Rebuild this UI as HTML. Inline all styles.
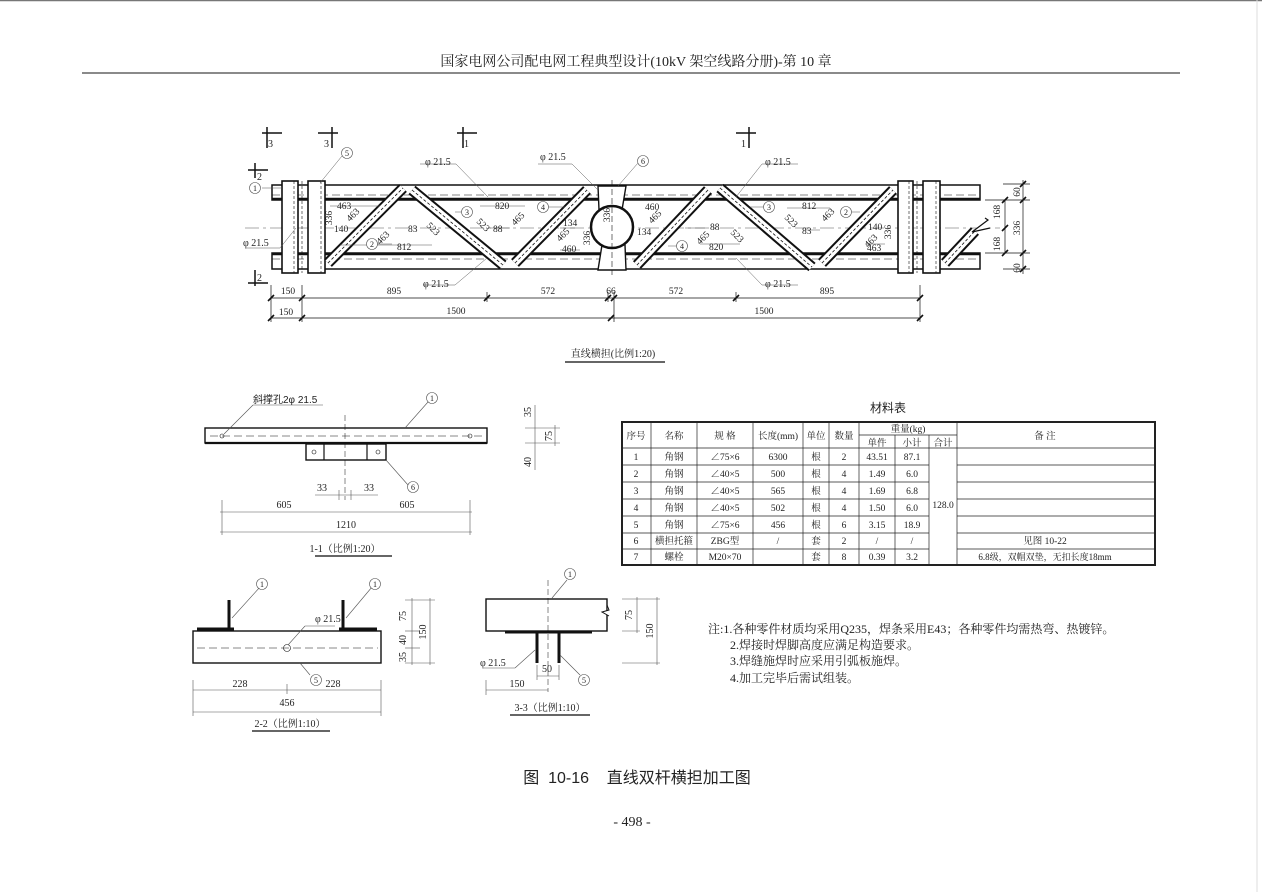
<!DOCTYPE html>
<html><head><meta charset="utf-8"><style>
html,body{margin:0;padding:0;background:#fff}
svg{display:block}
text{font-family:"Liberation Serif","Noto Serif CJK SC",serif;fill:#222}
.s{font-family:"Liberation Sans","Noto Sans CJK SC",sans-serif}
</style></head><body>
<svg width="1262" height="892" viewBox="0 0 1262 892" xmlns="http://www.w3.org/2000/svg">
<line x1="0" y1="0.5" x2="1262" y2="0.5" stroke="#777" stroke-width="1.5"/>
<line x1="1257" y1="0" x2="1257" y2="892" stroke="#ddd" stroke-width="1"/>
<text x="636" y="66" font-size="14" text-anchor="middle">国家电网公司配电网工程典型设计(10kV 架空线路分册)-第 10 章</text>
<line x1="82" y1="73" x2="1180" y2="73" stroke="#444" stroke-width="1.2"/>

<g stroke="#111" fill="none">
 <rect x="272" y="185" width="708" height="15" stroke-width="1.5"/>
 <line x1="272" y1="199" x2="980" y2="199" stroke-width="2.5"/>
 <rect x="272" y="253" width="708" height="16" stroke-width="1.5"/>
 <line x1="272" y1="254" x2="980" y2="254" stroke-width="2.5"/>
 <line x1="272" y1="195" x2="980" y2="195" stroke-width="0.6" stroke-dasharray="8,4"/>
 <line x1="272" y1="259" x2="980" y2="259" stroke-width="0.6" stroke-dasharray="8,4"/>
 <line x1="245" y1="228" x2="1000" y2="228" stroke-width="0.6" stroke-dasharray="14,4,3,4" stroke="#555"/>
 <g fill="#fff" stroke-width="1.6">
  <rect x="282" y="181" width="16" height="92"/>
  <rect x="308" y="181" width="17" height="92"/>
  <rect x="898" y="181" width="15" height="92"/>
  <rect x="923" y="181" width="17" height="92"/>
 </g>
 <g stroke-width="0.6" stroke-dasharray="3,2">
  <line x1="294" y1="181" x2="294" y2="273"/><line x1="321" y1="181" x2="321" y2="273"/>
  <line x1="909" y1="181" x2="909" y2="273"/><line x1="936" y1="181" x2="936" y2="273"/>
  <line x1="302" y1="181" x2="302" y2="273"/><line x1="917" y1="181" x2="917" y2="273"/>
 </g>
 <g stroke-linecap="butt">
  <g stroke-width="11"><line x1="328" y1="263" x2="403" y2="188"/><line x1="412" y1="190" x2="503" y2="265"/><line x1="515" y1="263" x2="587" y2="190"/>
   <line x1="637" y1="265" x2="708" y2="190"/><line x1="720" y1="188" x2="812" y2="267"/><line x1="822" y1="263" x2="893" y2="190"/><line x1="945" y1="263" x2="975" y2="231"/></g>
  <g stroke-width="7" stroke="#fff"><line x1="328" y1="263" x2="403" y2="188"/><line x1="412" y1="190" x2="503" y2="265"/><line x1="515" y1="263" x2="587" y2="190"/>
   <line x1="637" y1="265" x2="708" y2="190"/><line x1="720" y1="188" x2="812" y2="267"/><line x1="822" y1="263" x2="893" y2="190"/><line x1="945" y1="263" x2="975" y2="231"/></g>
  <g stroke-width="0.8" stroke-dasharray="3,2"><line x1="328" y1="263" x2="403" y2="188"/><line x1="412" y1="190" x2="503" y2="265"/><line x1="515" y1="263" x2="587" y2="190"/>
   <line x1="637" y1="265" x2="708" y2="190"/><line x1="720" y1="188" x2="812" y2="267"/><line x1="822" y1="263" x2="893" y2="190"/><line x1="945" y1="263" x2="975" y2="231"/></g>
 </g>
 <polyline points="985,218 988,220 972,232 990,228" stroke-width="1.2" fill="#fff"/>
 <path d="M598,186 L626,186 L622,210 L625,245 L626,270 L598,270 L602,245 L599,210 Z" stroke-width="1.4" fill="#fff"/>
 <circle cx="612" cy="227" r="21" stroke-width="2.5" fill="#fff"/>
 <line x1="612" y1="180" x2="612" y2="275" stroke-width="0.6" stroke-dasharray="6,3"/>
 <g stroke-width="0.7">
  <line x1="271" y1="298" x2="920" y2="298"/><line x1="271" y1="318" x2="920" y2="318"/>
  <line x1="271" y1="285" x2="271" y2="322"/><line x1="302" y1="285" x2="302" y2="322"/>
  <line x1="487" y1="292" x2="487" y2="302"/><line x1="608" y1="292" x2="608" y2="302"/><line x1="614" y1="292" x2="614" y2="322"/>
  <line x1="736" y1="292" x2="736" y2="302"/><line x1="920" y1="285" x2="920" y2="322"/>
  <line x1="1003" y1="184" x2="1030" y2="184"/><line x1="985" y1="200" x2="1030" y2="200"/>
  <line x1="985" y1="253" x2="1030" y2="253"/><line x1="1003" y1="269" x2="1030" y2="269"/>
  <line x1="1005" y1="200" x2="1005" y2="253"/><line x1="1023" y1="180" x2="1023" y2="274"/>
 </g>
 <g stroke-width="1.6">
  <line x1="268" y1="301" x2="274" y2="295"/><line x1="299" y1="301" x2="305" y2="295"/><line x1="484" y1="301" x2="490" y2="295"/>
  <line x1="605" y1="301" x2="611" y2="295"/><line x1="611" y1="301" x2="617" y2="295"/><line x1="733" y1="301" x2="739" y2="295"/><line x1="917" y1="301" x2="923" y2="295"/>
  <line x1="268" y1="321" x2="274" y2="315"/><line x1="299" y1="321" x2="305" y2="315"/><line x1="608" y1="321" x2="614" y2="315"/><line x1="917" y1="321" x2="923" y2="315"/>
  <line x1="1002" y1="203" x2="1008" y2="197"/><line x1="1002" y1="231" x2="1008" y2="225"/><line x1="1002" y1="256" x2="1008" y2="250"/>
  <line x1="1020" y1="187" x2="1026" y2="181"/><line x1="1020" y1="203" x2="1026" y2="197"/><line x1="1020" y1="256" x2="1026" y2="250"/><line x1="1020" y1="272" x2="1026" y2="266"/>
 </g>
 <g stroke-width="1.5">
  <line x1="262" y1="133" x2="282" y2="133"/><line x1="267" y1="127" x2="267" y2="148"/>
  <line x1="318" y1="133" x2="338" y2="133"/><line x1="332" y1="127" x2="332" y2="148"/>
  <line x1="457" y1="133" x2="477" y2="133"/><line x1="463" y1="127" x2="463" y2="148"/>
  <line x1="736" y1="133" x2="756" y2="133"/><line x1="749" y1="127" x2="749" y2="148"/>
  <line x1="248" y1="170" x2="268" y2="170"/><line x1="255" y1="163" x2="255" y2="178"/>
  <line x1="248" y1="283" x2="268" y2="283"/><line x1="255" y1="270" x2="255" y2="286"/>
 </g>
 <g stroke-width="0.5" stroke="#555">
  <line x1="262" y1="188" x2="282" y2="188"/>
  <line x1="342" y1="156" x2="320" y2="183"/>
  <line x1="245" y1="248" x2="280" y2="248"/><line x1="280" y1="248" x2="296" y2="228"/>
  <line x1="420" y1="164" x2="456" y2="164"/><line x1="456" y1="164" x2="488" y2="197"/>
  <line x1="423" y1="285" x2="455" y2="285"/><line x1="455" y1="285" x2="487" y2="258"/>
  <line x1="538" y1="164" x2="572" y2="164"/><line x1="572" y1="164" x2="598" y2="190"/>
  <line x1="638" y1="163" x2="618" y2="186"/>
  <line x1="762" y1="164" x2="798" y2="164"/><line x1="762" y1="164" x2="736" y2="197"/>
  <line x1="762" y1="285" x2="798" y2="285"/><line x1="762" y1="285" x2="736" y2="258"/>
  <line x1="377" y1="244" x2="392" y2="244"/><line x1="470" y1="212" x2="455" y2="212"/>
  <line x1="548" y1="207" x2="565" y2="207"/><line x1="688" y1="246" x2="668" y2="246"/>
  <line x1="765" y1="207" x2="750" y2="207"/><line x1="843" y1="212" x2="860" y2="212"/>
  <line x1="330" y1="206" x2="380" y2="206"/><line x1="340" y1="245" x2="432" y2="245"/>
  <line x1="480" y1="206" x2="525" y2="206"/><line x1="490" y1="228" x2="510" y2="228"/>
  <line x1="560" y1="228" x2="575" y2="228"/><line x1="560" y1="250" x2="580" y2="250"/>
  <line x1="685" y1="228" x2="705" y2="228"/><line x1="700" y1="244" x2="740" y2="244"/>
  <line x1="787" y1="208" x2="830" y2="208"/><line x1="805" y1="230" x2="820" y2="230"/>
  <line x1="865" y1="244" x2="885" y2="244"/>
 </g>
</g>
<g font-size="10">
 <text x="268" y="147">3</text><text x="324" y="147">3</text><text x="464" y="147">1</text><text x="741" y="147">1</text>
 <text x="257" y="180">2</text><text x="257" y="281">2</text>
 <text x="425" y="165">φ 21.5</text><text x="540" y="160">φ 21.5</text>
 <text x="765" y="165">φ 21.5</text><text x="243" y="246">φ 21.5</text>
 <text x="423" y="287">φ 21.5</text><text x="765" y="287">φ 21.5</text>
 <g font-size="9.5">
 <text x="337" y="209">463</text><text x="334" y="232">140</text><text x="397" y="250">812</text><text x="408" y="232">83</text>
 <text x="495" y="209">820</text><text x="493" y="232">88</text><text x="563" y="226">134</text><text x="562" y="252">460</text>
 <text x="645" y="210">460</text><text x="637" y="235">134</text><text x="710" y="230">88</text><text x="709" y="250">820</text>
 <text x="802" y="209">812</text><text x="802" y="234">83</text><text x="868" y="230">140</text><text x="867" y="251">463</text>
 <text x="288" y="294" text-anchor="middle">150</text><text x="394" y="294" text-anchor="middle">895</text><text x="548" y="294" text-anchor="middle">572</text>
 <text x="611" y="294" text-anchor="middle">66</text><text x="676" y="294" text-anchor="middle">572</text><text x="827" y="294" text-anchor="middle">895</text>
 <text x="286" y="315" text-anchor="middle">150</text><text x="456" y="314" text-anchor="middle">1500</text><text x="764" y="314" text-anchor="middle">1500</text>
 <text transform="translate(1020,192) rotate(-90)" text-anchor="middle">60</text>
 <text transform="translate(1000,212) rotate(-90)" text-anchor="middle">168</text>
 <text transform="translate(1020,228) rotate(-90)" text-anchor="middle">336</text>
 <text transform="translate(1000,244) rotate(-90)" text-anchor="middle">168</text>
 <text transform="translate(1020,268) rotate(-90)" text-anchor="middle">60</text>
 <text transform="translate(332,218) rotate(-90)" text-anchor="middle">336</text>
 <text transform="translate(610,215) rotate(-90)" text-anchor="middle">336</text>
 <text transform="translate(590,238) rotate(-90)" text-anchor="middle">336</text>
 <text transform="translate(891,232) rotate(-90)" text-anchor="middle">336</text>
 <text transform="translate(350,222) rotate(-45)">463</text><text transform="translate(380,245) rotate(-45)">463</text>
 <text transform="translate(426,226) rotate(45)">523</text><text transform="translate(476,222) rotate(45)">523</text>
 <text transform="translate(515,226) rotate(-45)">465</text><text transform="translate(560,242) rotate(-45)">465</text>
 <text transform="translate(652,224) rotate(-45)">465</text><text transform="translate(700,245) rotate(-45)">465</text>
 <text transform="translate(784,218) rotate(45)">523</text><text transform="translate(730,233) rotate(45)">523</text>
 <text transform="translate(825,222) rotate(-45)">463</text><text transform="translate(868,248) rotate(-45)">463</text>
 </g>
</g>
<g fill="#fff" stroke="#555" stroke-width="0.6">
 <circle cx="255" cy="188" r="5.5"/><circle cx="347" cy="153" r="5.5"/><circle cx="372" cy="244" r="5.5"/>
 <circle cx="467" cy="212" r="5.5"/><circle cx="543" cy="207" r="5.5"/><circle cx="643" cy="161" r="5.5"/>
 <circle cx="682" cy="246" r="5.5"/><circle cx="769" cy="207" r="5.5"/><circle cx="846" cy="212" r="5.5"/>
</g>
<g font-size="8" text-anchor="middle">
 <text x="255" y="191">1</text><text x="347" y="156">5</text><text x="372" y="247">2</text><text x="467" y="215">3</text><text x="543" y="210">4</text>
 <text x="643" y="164">6</text><text x="682" y="249">4</text><text x="769" y="210">3</text><text x="846" y="215">2</text>
</g>
<text x="613" y="357" font-size="10" text-anchor="middle">直线横担(比例1:20)</text>
<line x1="565" y1="362" x2="665" y2="362" stroke="#333" stroke-width="1.4"/>

<g stroke="#111" fill="none">
 <rect x="205" y="428" width="282" height="15" stroke-width="1.4"/>
 <line x1="205" y1="443" x2="487" y2="443" stroke-width="2.2"/>
 <line x1="210" y1="436" x2="482" y2="436" stroke-width="0.5" stroke-dasharray="8,4"/>
 <rect x="306" y="444" width="80" height="16" stroke-width="1.4" fill="#fff"/>
 <line x1="324" y1="444" x2="324" y2="460" stroke-width="1.2"/><line x1="367" y1="444" x2="367" y2="460" stroke-width="1.2"/>
 <line x1="345" y1="415" x2="345" y2="500" stroke-width="0.5" stroke-dasharray="6,3"/>
 <circle cx="222" cy="436" r="2" stroke-width="0.6"/><circle cx="470" cy="436" r="2" stroke-width="0.6"/>
 <circle cx="314" cy="452" r="2" stroke-width="0.6"/><circle cx="378" cy="452" r="2" stroke-width="0.6"/>
 <g stroke-width="0.6" stroke="#555">
  <line x1="253" y1="405" x2="323" y2="405"/><line x1="253" y1="405" x2="224" y2="434"/>
  <line x1="428" y1="402" x2="405" y2="428"/><line x1="408" y1="485" x2="386" y2="460"/>
  <line x1="220" y1="512" x2="472" y2="512"/><line x1="220" y1="532" x2="472" y2="532"/>
  <line x1="222" y1="500" x2="222" y2="535"/><line x1="470" y1="500" x2="470" y2="535"/>
  <line x1="315" y1="495" x2="378" y2="495"/><line x1="339" y1="490" x2="339" y2="500"/><line x1="351" y1="490" x2="351" y2="500"/>
  <line x1="525" y1="428" x2="560" y2="428"/><line x1="525" y1="443" x2="560" y2="443"/><line x1="535" y1="405" x2="535" y2="470"/><line x1="555" y1="425" x2="555" y2="446"/>
 </g>
</g>
<g font-size="10">
 <text x="253" y="403" class="s" font-size="10">斜撑孔2φ 21.5</text>
 <text x="284" y="508" text-anchor="middle">605</text><text x="407" y="508" text-anchor="middle">605</text>
 <text x="346" y="528" text-anchor="middle">1210</text>
 <text x="322" y="491" text-anchor="middle">33</text><text x="369" y="491" text-anchor="middle">33</text>
 <text transform="translate(531,412) rotate(-90)" text-anchor="middle">35</text>
 <text transform="translate(552,436) rotate(-90)" text-anchor="middle">75</text>
 <text transform="translate(531,462) rotate(-90)" text-anchor="middle">40</text>
 <text x="345" y="552" text-anchor="middle">1-1（比例1:20）</text>
</g>
<line x1="315" y1="556" x2="392" y2="556" stroke="#333" stroke-width="1.4"/>
<g fill="#fff" stroke="#555" stroke-width="0.6"><circle cx="432" cy="398" r="5.5"/><circle cx="413" cy="487" r="5.5"/></g>
<g font-size="8" text-anchor="middle"><text x="432" y="401">1</text><text x="413" y="490">6</text></g>

<g stroke="#111" fill="none">
 <rect x="193" y="631" width="188" height="32" stroke-width="1.4"/>
 <line x1="197" y1="629" x2="234" y2="629" stroke-width="3"/><line x1="339" y1="629" x2="377" y2="629" stroke-width="3"/>
 <line x1="229" y1="600" x2="229" y2="629" stroke-width="3"/><line x1="343" y1="600" x2="343" y2="629" stroke-width="3"/>
 <line x1="197" y1="648" x2="378" y2="648" stroke-width="0.5" stroke-dasharray="8,4"/>
 <circle cx="287" cy="648" r="3.5" stroke-width="0.6"/>
 <g stroke-width="0.6" stroke="#555">
  <line x1="260" y1="587" x2="232" y2="618"/><line x1="372" y1="587" x2="346" y2="618"/>
  <line x1="305" y1="626" x2="335" y2="626"/><line x1="305" y1="626" x2="288" y2="645"/>
  <line x1="310" y1="675" x2="300" y2="663"/>
  <line x1="193" y1="690" x2="381" y2="690"/><line x1="193" y1="712" x2="381" y2="712"/>
  <line x1="193" y1="680" x2="193" y2="716"/><line x1="381" y1="680" x2="381" y2="716"/><line x1="287" y1="684" x2="287" y2="694"/>
  <line x1="405" y1="600" x2="435" y2="600"/><line x1="405" y1="631" x2="420" y2="631"/><line x1="405" y1="648" x2="420" y2="648"/><line x1="405" y1="663" x2="435" y2="663"/>
  <line x1="412" y1="598" x2="412" y2="665"/><line x1="430" y1="598" x2="430" y2="665"/>
 </g>
</g>
<g font-size="10">
 <text x="315" y="622">φ 21.5</text>
 <text x="240" y="687" text-anchor="middle">228</text><text x="333" y="687" text-anchor="middle">228</text>
 <text x="287" y="706" text-anchor="middle">456</text>
 <text transform="translate(406,616) rotate(-90)" text-anchor="middle">75</text>
 <text transform="translate(406,640) rotate(-90)" text-anchor="middle">40</text>
 <text transform="translate(406,657) rotate(-90)" text-anchor="middle">35</text>
 <text transform="translate(426,632) rotate(-90)" text-anchor="middle">150</text>
 <text x="290" y="727" text-anchor="middle">2-2（比例1:10）</text>
</g>
<line x1="252" y1="731" x2="330" y2="731" stroke="#333" stroke-width="1.4"/>
<g fill="#fff" stroke="#555" stroke-width="0.6"><circle cx="262" cy="584" r="5.5"/><circle cx="375" cy="584" r="5.5"/><circle cx="316" cy="680" r="5.5"/></g>
<g font-size="8" text-anchor="middle"><text x="262" y="587">1</text><text x="375" y="587">1</text><text x="316" y="683">5</text></g>

<g stroke="#111" fill="none">
 <rect x="486" y="599" width="121" height="32" stroke-width="1.4"/>
 <line x1="505" y1="632" x2="592" y2="632" stroke-width="3"/>
 <line x1="537" y1="632" x2="537" y2="663" stroke-width="3"/><line x1="559" y1="632" x2="559" y2="663" stroke-width="3"/>
 <line x1="548" y1="580" x2="548" y2="692" stroke-width="0.5" stroke-dasharray="6,3"/>
 <polyline points="607,605 609,610 602,612 609,616" stroke-width="1" fill="#fff"/>
 <g stroke-width="0.6" stroke="#555">
  <line x1="567" y1="580" x2="552" y2="598"/>
  <line x1="483" y1="668" x2="515" y2="668"/><line x1="515" y1="668" x2="535" y2="650"/>
  <line x1="560" y1="655" x2="580" y2="675"/>
  <line x1="486" y1="690" x2="548" y2="690"/><line x1="486" y1="680" x2="486" y2="695"/>
  <line x1="537" y1="676" x2="559" y2="676"/><line x1="537" y1="665" x2="537" y2="680"/><line x1="559" y1="665" x2="559" y2="680"/>
  <line x1="622" y1="599" x2="660" y2="599"/><line x1="622" y1="631" x2="640" y2="631"/><line x1="622" y1="663" x2="660" y2="663"/>
  <line x1="637" y1="597" x2="637" y2="633"/><line x1="657" y1="597" x2="657" y2="665"/>
 </g>
</g>
<g font-size="10">
 <text x="480" y="666">φ 21.5</text>
 <text x="547" y="672" text-anchor="middle">50</text>
 <text x="517" y="687" text-anchor="middle">150</text>
 <text transform="translate(632,615) rotate(-90)" text-anchor="middle">75</text>
 <text transform="translate(653,631) rotate(-90)" text-anchor="middle">150</text>
 <text x="550" y="711" text-anchor="middle">3-3（比例1:10）</text>
</g>
<line x1="510" y1="715" x2="590" y2="715" stroke="#333" stroke-width="1.4"/>
<g fill="#fff" stroke="#555" stroke-width="0.6"><circle cx="570" cy="574" r="5.5"/><circle cx="584" cy="680" r="5.5"/></g>
<g font-size="8" text-anchor="middle"><text x="570" y="577">1</text><text x="584" y="683">5</text></g>

<text x="888" y="412" font-size="12" text-anchor="middle" class="s">材料表</text>
<g stroke="#222" fill="none">
 <rect x="622" y="422" width="533" height="143" stroke-width="2"/>
 <g stroke-width="0.7">
  <line x1="651" y1="422" x2="651" y2="565"/><line x1="697" y1="422" x2="697" y2="565"/><line x1="753" y1="422" x2="753" y2="565"/>
  <line x1="803" y1="422" x2="803" y2="565"/><line x1="829" y1="422" x2="829" y2="565"/><line x1="859" y1="422" x2="859" y2="565"/>
  <line x1="895" y1="435" x2="895" y2="565"/><line x1="929" y1="435" x2="929" y2="565"/><line x1="957" y1="422" x2="957" y2="565"/>
  <line x1="859" y1="435" x2="957" y2="435"/>
  <line x1="622" y1="448" x2="1155" y2="448"/>
  <line x1="622" y1="465" x2="929" y2="465"/><line x1="622" y1="482" x2="929" y2="482"/><line x1="622" y1="499" x2="929" y2="499"/>
  <line x1="622" y1="516" x2="929" y2="516"/><line x1="622" y1="533" x2="929" y2="533"/><line x1="622" y1="549" x2="929" y2="549"/>
  <line x1="957" y1="465" x2="1155" y2="465"/><line x1="957" y1="482" x2="1155" y2="482"/><line x1="957" y1="499" x2="1155" y2="499"/>
  <line x1="957" y1="516" x2="1155" y2="516"/><line x1="957" y1="533" x2="1155" y2="533"/><line x1="957" y1="549" x2="1155" y2="549"/>
 </g>
</g>
<g font-size="9.5" text-anchor="middle">
 <text x="636" y="439">序号</text><text x="674" y="439">名称</text><text x="725" y="439">规 格</text><text x="778" y="439">长度(mm)</text>
 <text x="816" y="439">单位</text><text x="844" y="439">数量</text><text x="908" y="432">重量(kg)</text>
 <text x="877" y="446">单件</text><text x="912" y="446">小计</text><text x="943" y="446">合计</text><text x="1045" y="439">备 注</text>
 <text x="636" y="460">1</text><text x="674" y="460">角钢</text><text x="725" y="460">∠75×6</text><text x="778" y="460">6300</text><text x="816" y="460">根</text><text x="844" y="460">2</text><text x="877" y="460">43.51</text><text x="912" y="460">87.1</text>
 <text x="636" y="477">2</text><text x="674" y="477">角钢</text><text x="725" y="477">∠40×5</text><text x="778" y="477">500</text><text x="816" y="477">根</text><text x="844" y="477">4</text><text x="877" y="477">1.49</text><text x="912" y="477">6.0</text>
 <text x="636" y="494">3</text><text x="674" y="494">角钢</text><text x="725" y="494">∠40×5</text><text x="778" y="494">565</text><text x="816" y="494">根</text><text x="844" y="494">4</text><text x="877" y="494">1.69</text><text x="912" y="494">6.8</text>
 <text x="636" y="511">4</text><text x="674" y="511">角钢</text><text x="725" y="511">∠40×5</text><text x="778" y="511">502</text><text x="816" y="511">根</text><text x="844" y="511">4</text><text x="877" y="511">1.50</text><text x="912" y="511">6.0</text>
 <text x="636" y="528">5</text><text x="674" y="528">角钢</text><text x="725" y="528">∠75×6</text><text x="778" y="528">456</text><text x="816" y="528">根</text><text x="844" y="528">6</text><text x="877" y="528">3.15</text><text x="912" y="528">18.9</text>
 <text x="636" y="544">6</text><text x="674" y="544">横担托箍</text><text x="725" y="544">ZBG型</text><text x="778" y="544">/</text><text x="816" y="544">套</text><text x="844" y="544">2</text><text x="877" y="544">/</text><text x="912" y="544">/</text>
 <text x="636" y="560">7</text><text x="674" y="560">螺栓</text><text x="725" y="560">M20×70</text><text x="816" y="560">套</text><text x="844" y="560">8</text><text x="877" y="560">0.39</text><text x="912" y="560">3.2</text>
 <text x="943" y="508">128.0</text>
 <text x="1045" y="544">见图 10-22</text>
 <text x="1045" y="560" font-size="9">6.8级，双帽双垫，无扣长度18mm</text>
</g>

<g font-size="12">
 <text x="708" y="633">注:1.各种零件材质均采用Q235，焊条采用E43；各种零件均需热弯、热镀锌。</text>
 <text x="730" y="649">2.焊接时焊脚高度应满足构造要求。</text>
 <text x="730" y="665">3.焊缝施焊时应采用引弧板施焊。</text>
 <text x="730" y="682">4.加工完毕后需试组装。</text>
</g>

<text x="637" y="783" font-size="16" text-anchor="middle" class="s">图&#160;&#160;10-16&#160;&#160;&#160;&#160;直线双杆横担加工图</text>
<text x="632" y="826" font-size="14" text-anchor="middle">- 498 -</text>
</svg>
</body></html>
